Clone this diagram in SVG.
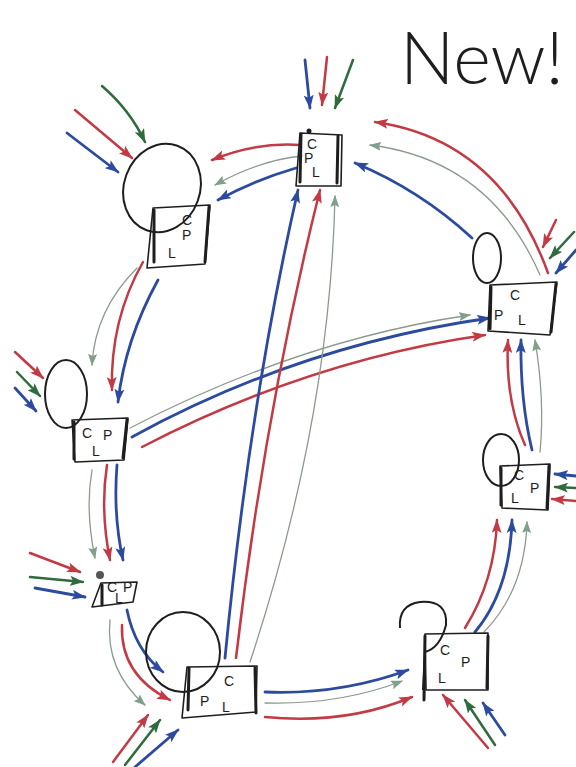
<svg xmlns="http://www.w3.org/2000/svg" width="576" height="767" viewBox="0 0 576 767">
<style>
.r{stroke:#c23a44;stroke-width:2.5;fill:none;stroke-linecap:round}
.b{stroke:#2d4b9e;stroke-width:2.8;fill:none;stroke-linecap:round}
.g{stroke:#2f6b3c;stroke-width:2.5;fill:none;stroke-linecap:round}
.t{stroke:#8c9a8e;stroke-width:1.3;fill:none;stroke-linecap:round}
.box{fill:none;stroke:#1e1e1e;stroke-width:1.6;stroke-linejoin:round}
.edge{fill:none;stroke:#1e1e1e;stroke-width:3;stroke-linecap:round}
.loop{fill:none;stroke:#1e1e1e;stroke-width:2}
.lbl{font-family:"Liberation Sans",Arial,sans-serif;font-size:14px;fill:#1e1e1e}
.title{font-family:Lato,Inter,"DejaVu Sans",sans-serif;font-weight:300;font-size:72px;fill:#1e1e1e}
</style>
<defs>
<marker id="mr" markerUnits="userSpaceOnUse" markerWidth="14" markerHeight="10" refX="13" refY="5" orient="auto"><path d="M0,0 L14,5 L0,10 L3,5 z" fill="#c23a44"/></marker>
<marker id="mb" markerUnits="userSpaceOnUse" markerWidth="14" markerHeight="10" refX="13" refY="5" orient="auto"><path d="M0,0 L14,5 L0,10 L3,5 z" fill="#2d4b9e"/></marker>
<marker id="mg" markerUnits="userSpaceOnUse" markerWidth="14" markerHeight="10" refX="13" refY="5" orient="auto"><path d="M0,0 L14,5 L0,10 L3,5 z" fill="#2f6b3c"/></marker>
<marker id="mt" markerUnits="userSpaceOnUse" markerWidth="12" markerHeight="9" refX="11" refY="4.5" orient="auto"><path d="M0,0 L12,4.5 L0,9 L2,4.5 z" fill="#7fa08a"/></marker>
</defs>
<rect width="576" height="767" fill="#ffffff"/>
<text class="title" x="400" y="84">New!</text>

<g id="connectors">
<!-- N1 -> N2 -->
<path class="r" d="M300,145 Q255,142 212,160" marker-end="url(#mr)"/>
<path class="t" d="M302,156 Q260,160 215,185" marker-end="url(#mt)"/>
<path class="b" d="M296,168 Q255,180 218,200" marker-end="url(#mb)"/>
<!-- N3 -> N1 -->
<path class="r" d="M548,273 Q500,140 375,122" marker-end="url(#mr)"/>
<path class="t" d="M540,275 Q490,160 370,145" marker-end="url(#mt)"/>
<path class="b" d="M472,238 Q420,190 355,163" marker-end="url(#mb)"/>
<!-- N2 -> N4 -->
<path class="t" d="M137,268 Q95,310 92,365" marker-end="url(#mt)"/>
<path class="r" d="M143,262 Q110,320 112,390" marker-end="url(#mr)"/>
<path class="b" d="M158,280 Q125,340 118,402" marker-end="url(#mb)"/>
<!-- N4 -> N3 -->
<path class="t" d="M130,428 Q300,340 470,315" marker-end="url(#mt)"/>
<path class="b" d="M132,437 Q300,345 490,318" marker-end="url(#mb)"/>
<path class="r" d="M142,447 Q310,360 485,335" marker-end="url(#mr)"/>
<!-- N6 -> N1 -->
<path class="b" d="M225,658 Q250,400 298,190" marker-end="url(#mb)"/>
<path class="r" d="M236,658 Q265,410 320,190" marker-end="url(#mr)"/>
<path class="t" d="M250,662 Q330,420 335,196" marker-end="url(#mt)"/>
<!-- N8 -> N3 -->
<path class="r" d="M525,445 Q505,400 508,340" marker-end="url(#mr)"/>
<path class="b" d="M532,450 Q520,400 521,340" marker-end="url(#mb)"/>
<path class="t" d="M540,452 Q545,400 535,340" marker-end="url(#mt)"/>
<!-- N7 -> N8 -->
<path class="r" d="M465,628 Q495,580 497,520" marker-end="url(#mr)"/>
<path class="b" d="M475,632 Q510,590 512,520" marker-end="url(#mb)"/>
<path class="t" d="M484,632 Q525,590 527,522" marker-end="url(#mt)"/>
<!-- N6 -> N7 -->
<path class="b" d="M265,692 Q340,695 408,670" marker-end="url(#mb)"/>
<path class="t" d="M265,703 Q340,705 402,681" marker-end="url(#mt)"/>
<path class="r" d="M265,717 Q345,725 412,697" marker-end="url(#mr)"/>
<!-- N4 -> N5 -->
<path class="t" d="M92,470 Q85,510 95,558" marker-end="url(#mt)"/>
<path class="r" d="M107,465 Q100,510 110,560" marker-end="url(#mr)"/>
<path class="b" d="M117,465 Q113,515 123,560" marker-end="url(#mb)"/>
<!-- N5 -> N6 -->
<path class="t" d="M110,620 Q105,670 145,705" marker-end="url(#mt)"/>
<path class="r" d="M122,625 Q120,675 170,700" marker-end="url(#mr)"/>
<path class="b" d="M127,610 Q135,650 163,672" marker-end="url(#mb)"/>
<!-- external inputs -->
<path class="b" d="M305,60 L310,108" marker-end="url(#mb)"/>
<path class="r" d="M327,57 L322,105" marker-end="url(#mr)"/>
<path class="g" d="M353,60 L335,108" marker-end="url(#mg)"/>
<path class="g" d="M102,86 Q130,110 145,142" marker-end="url(#mg)"/>
<path class="r" d="M75,110 L132,158" marker-end="url(#mr)"/>
<path class="b" d="M67,133 L118,172" marker-end="url(#mb)"/>
<path class="r" d="M556,220 L543,247" marker-end="url(#mr)"/>
<path class="g" d="M574,232 L550,258" marker-end="url(#mg)"/>
<path class="b" d="M576,250 L556,273" marker-end="url(#mb)"/>
<path class="b" d="M576,476 L555,474" marker-end="url(#mb)"/>
<path class="g" d="M576,488 L555,487" marker-end="url(#mg)"/>
<path class="r" d="M576,501 L552,499" marker-end="url(#mr)"/>
<path class="r" d="M488,748 L443,695" marker-end="url(#mr)"/>
<path class="g" d="M495,745 L465,700" marker-end="url(#mg)"/>
<path class="b" d="M505,735 L483,703" marker-end="url(#mb)"/>
<path class="r" d="M113,762 L148,715" marker-end="url(#mr)"/>
<path class="g" d="M125,765 L160,720" marker-end="url(#mg)"/>
<path class="b" d="M135,767 L178,730" marker-end="url(#mb)"/>
<path class="r" d="M30,553 L80,572" marker-end="url(#mr)"/>
<path class="g" d="M30,577 L83,582" marker-end="url(#mg)"/>
<path class="b" d="M35,588 L85,597" marker-end="url(#mb)"/>
<path class="r" d="M15,352 L43,378" marker-end="url(#mr)"/>
<path class="g" d="M17,372 L40,396" marker-end="url(#mg)"/>
<path class="b" d="M15,388 L36,411" marker-end="url(#mb)"/>
</g>

<g id="n1">
<circle cx="309" cy="131" r="2.5" fill="#1e1e1e"/>
<path class="box" d="M300,133 L342,135 L341,186 L296,186 Z"/>
<path class="edge" d="M301,134 L300,182 M338,136 L337,183"/>
<text class="lbl" x="307" y="149" font-size="12">C</text>
<text class="lbl" x="304" y="163" font-size="12">P</text>
<text class="lbl" x="312" y="177" font-size="12">L</text>
</g>

<g id="n2">
<ellipse class="loop" cx="162" cy="188" rx="38" ry="45" transform="rotate(20 162 188)"/>
<path class="box" d="M153,208 L210,205 L205,264 L147,268 Z"/>
<path class="edge" d="M154,210 L154,262 M209,207 L205,262"/>
<text class="lbl" x="182" y="225">C</text>
<text class="lbl" x="182" y="240">P</text>
<text class="lbl" x="168" y="258">L</text>
</g>

<g id="n3">
<ellipse class="loop" cx="487" cy="258" rx="14" ry="25"/>
<path class="box" d="M490,285 L557,282 L550,335 L488,331 Z"/>
<path class="edge" d="M491,287 L490,329 M556,284 L551,332"/>
<text class="lbl" x="510" y="300">C</text>
<text class="lbl" x="494" y="320">P</text>
<text class="lbl" x="518" y="325">L</text>
</g>

<g id="n4">
<ellipse class="loop" cx="66" cy="394" rx="21" ry="34"/>
<path class="box" d="M72,420 L128,418 L124,460 L75,462 Z"/>
<path class="edge" d="M74,422 L74,459 M127,420 L123,458"/>
<text class="lbl" x="82" y="438">C</text>
<text class="lbl" x="103" y="440">P</text>
<text class="lbl" x="92" y="456">L</text>
</g>

<g id="n5">
<circle cx="100" cy="575" r="4" fill="#555"/>
<path class="box" d="M101,583 L137,582 L133,602 L92,607 Z"/>
<path class="edge" d="M102,585 L102,605"/>
<text class="lbl" x="107" y="592" font-size="8">C</text>
<text class="lbl" x="123" y="592" font-size="8">P</text>
<text class="lbl" x="115" y="603" font-size="8">L</text>
</g>

<g id="n6">
<ellipse class="loop" cx="183" cy="652" rx="37" ry="40"/>
<path class="box" d="M187,667 L257,666 L256,712 L182,718 Z"/>
<path class="edge" d="M189,668 L188,710 M255,668 L256,713"/>
<text class="lbl" x="224" y="686" font-size="16">C</text>
<text class="lbl" x="200" y="706">P</text>
<text class="lbl" x="222" y="712" font-size="16">L</text>
</g>

<g id="n7">
<path class="loop" d="M400,628 Q398,605 420,602 Q448,600 446,625 Q440,648 425,652 L423,690"/>
<path class="box" d="M425,634 L488,633 L488,690 L426,690 Z"/>
<path class="edge" d="M425,636 L424,700 M488,636 L487,688"/>
<text class="lbl" x="440" y="655" font-size="16">C</text>
<text class="lbl" x="461" y="667" font-size="16">P</text>
<text class="lbl" x="438" y="683" font-size="16">L</text>
</g>

<g id="n8">
<ellipse class="loop" cx="501" cy="460" rx="18" ry="26"/>
<path class="box" d="M500,466 L550,464 L548,510 L502,508 Z"/>
<path class="edge" d="M501,468 L501,505 M549,466 L547,508"/>
<text class="lbl" x="514" y="480">C</text>
<text class="lbl" x="530" y="493">P</text>
<text class="lbl" x="511" y="503">L</text>
</g>
</svg>
